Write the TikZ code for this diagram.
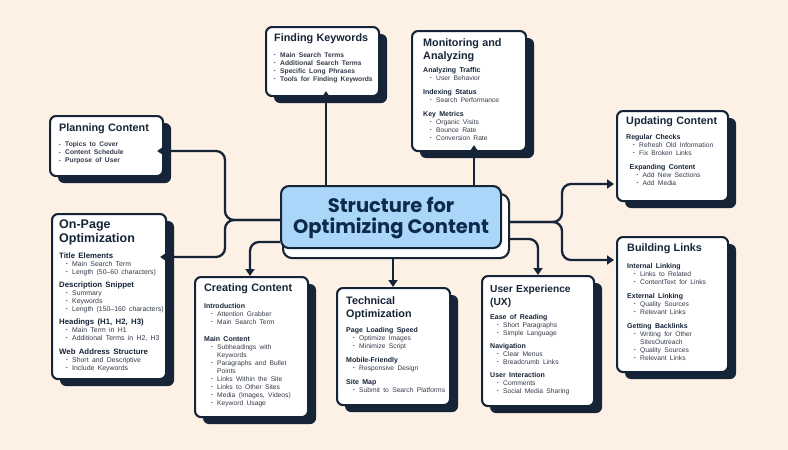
\documentclass[tikz,border=0pt]{standalone}
\usepackage{fontspec}
\setmainfont{Liberation Sans}
\newfontfamily\ctitlefont{Poppins}
\usetikzlibrary{shadows,arrows.meta}
\setlength{\parindent}{0pt}
\hyphenpenalty=10000
\definecolor{bg}{RGB}{253,240,228}
\definecolor{navy}{RGB}{22,36,56}
\definecolor{cblue}{RGB}{170,214,250}
\definecolor{ctext}{RGB}{14,42,74}
\definecolor{itemc}{RGB}{50,58,72}
\def\tsz{10.8}\def\tbs{13}\def\hsz{7}\def\isz{6.7}\def\itemfont{}\def\hin{0}
\newcommand{\BTitle}[1]{{\fontsize{\tsz}{\tbs}\selectfont\bfseries\leavevmode\color{navy}#1\par}}
\newcommand{\BHead}[1]{{\fontsize{\hsz}{8}\selectfont\bfseries\leavevmode\hspace*{\hin pt}\color{navy}#1\par}}
\newcommand{\BItem}[2][7]{{\fontsize{\isz}{8}\selectfont\itemfont\leavevmode\color{itemc}\hangindent=\dimexpr#1pt+6pt\relax\hspace*{#1pt}\makebox[6pt][l]{\raisebox{0.7pt}{\fontsize{4.5}{4.5}\selectfont\textbullet}}#2\par}}
\newcommand{\Gap}[1][5.5pt]{\vspace{#1}}
\tikzset{
  x=1pt, y=-1pt,
  box/.style={draw=navy, line width=2.1pt, fill=white, rounded corners=6pt,
    anchor=north west, inner sep=0pt,
    general shadow={fill=navy, shadow xshift=8pt, shadow yshift=-7pt}},
  txt/.style={anchor=north west, inner sep=0pt, align=left},
  conn/.style={draw=navy, line width=2.3pt, rounded corners=9pt,
    -{Triangle[length=7pt,width=9pt]}},
  cbox/.style={draw=navy, line width=2.1pt, fill=cblue, rounded corners=8pt,
    anchor=north west, inner sep=0pt},
  cshadow/.style={draw=navy, line width=2.1pt, fill=white, rounded corners=9pt,
    anchor=north west, inner sep=0pt}
}
\begin{document}
\begin{tikzpicture}
\fill[bg] (0,0) rectangle (788,450);
\useasboundingbox (0,0) rectangle (788,450);

% boxes
\node[box, minimum width=113pt, minimum height=69pt] (fk) at (265,26) {};
\node[box, minimum width=114pt, minimum height=120pt] (ma) at (411,30) {};
\node[box, minimum width=113pt, minimum height=60pt] (pc) at (49,115) {};
\node[box, minimum width=114pt, minimum height=165pt] (op) at (51,213) {};
\node[box, minimum width=113pt, minimum height=140pt] (cc) at (194,276) {};
\node[box, minimum width=113pt, minimum height=117pt] (to) at (336,287) {};
\node[box, minimum width=112pt, minimum height=130pt] (ux) at (481,275) {};
\node[box, minimum width=111pt, minimum height=90pt] (uc) at (616,110) {};
\node[box, minimum width=111pt, minimum height=135pt] (bl) at (616,236) {};

% centre
\node[cshadow, minimum width=226pt, minimum height=64pt] (cs) at (282,193) {};
\node[cbox, minimum width=220pt, minimum height=62pt] (ctr) at (280,185) {};
\node[align=center, inner sep=0pt, text=ctext,
  font=\ctitlefont\bfseries\fontsize{19.5}{21}\selectfont] (ct) at ([yshift=-1pt]ctr.center)
  {Structure for\\Optimizing Content};

% connectors
\draw[conn, shorten >=-6pt] (ctr.north -| 326,0) -- (fk.south -| 326,0);
\draw[conn, shorten >=-7pt] (ctr.north -| 474,0) -- (ma.south -| 474,0);
\draw[conn, shorten >=-7pt] (ctr.west |- 0,220) -| (225,151) -- (pc.east |- 0,151);
\draw[conn, shorten >=-7pt] (ctr.west |- 0,220) -| (225,257) -- (op.east |- 0,257);
\draw[conn] (ctr.west |- 0,242) -| (cc.north -| 250,0);
\draw[conn] (cs.south -| 393,0) -- (to.north -| 393,0);
\draw[conn] (cs.east |- 0,239) -| (ux.north -| 538,0);
\draw[conn, shorten >=2pt] (cs.east |- 0,222) -| (562,184) -- (uc.west |- 0,184);
\draw[conn, shorten >=2pt] (cs.east |- 0,222) -| (562,260) -- (bl.west |- 0,260);

% texts
\node[txt, text width=100pt] (fk-t) at ([shift={(9pt,-7.3pt)}]fk.north west) {%
  \def\itemfont{\bfseries}%
  \BTitle{Finding Keywords}\Gap[8pt]
  \BItem[0]{Main Search Terms}
  \BItem[0]{Additional Search Terms}
  \BItem[0]{Specific Long Phrases}
  \BItem[0]{Tools for Finding Keywords}};

\node[txt, text width=98pt] (ma-t) at ([shift={(12pt,-8.3pt)}]ma.north west) {%
  \BTitle{Monitoring and\newline Analyzing}\Gap[5pt]
  \BHead{Analyzing Traffic}
  \BItem{User Behavior}\Gap[6pt]
  \BHead{Indexing Status}
  \BItem{Search Performance}\Gap[6pt]
  \BHead{Key Metrics}
  \BItem{Organic Visits}
  \BItem{Bounce Rate}
  \BItem{Conversion Rate}};

\node[txt, text width=100pt] (pc-t) at ([shift={(10pt,-8.8pt)}]pc.north west) {%
  \def\itemfont{\bfseries}%
  \BTitle{Planning Content}\Gap[7pt]
  \BItem[0]{Topics to Cover}
  \BItem[0]{Content Schedule}
  \BItem[0]{Purpose of User}};

\node[txt, text width=110pt] (op-t) at ([shift={(8pt,-7pt)}]op.north west) {%
  \def\tsz{12.5}\def\tbs{14}\def\hsz{7.8}\def\isz{6.9}%
  \BTitle{On-Page\newline Optimization}\Gap[6pt]
  \BHead{Title Elements}
  \BItem{Main Search Term}
  \BItem{Length (50--60 characters)}\Gap[5pt]
  \BHead{Description Snippet}
  \BItem{Summary}
  \BItem{Keywords}
  \BItem{Length (150--160 characters)}\Gap[5pt]
  \BHead{Headings (H1, H2, H3)}
  \BItem{Main Term in H1}
  \BItem{Additional Terms in H2, H3}\Gap[6pt]
  \BHead{Web Address Structure}
  \BItem{Short and Descriptive}
  \BItem{Include Keywords}};

\node[txt, text width=100pt] (cc-t) at ([shift={(10pt,-7.3pt)}]cc.north west) {%
  \BTitle{Creating Content}\Gap[9pt]
  \BHead{Introduction}
  \BItem{Attention Grabber}
  \BItem{Main Search Term}\Gap[9pt]
  \BHead{Main Content}
  \BItem{Subheadings with\newline Keywords}
  \BItem{Paragraphs and Bullet\newline Points}
  \BItem{Links Within the Site}
  \BItem{Links to Other Sites}
  \BItem{Media (Images, Videos)}
  \BItem{Keyword Usage}};

\node[txt, text width=100pt] (to-t) at ([shift={(10pt,-9.5pt)}]to.north west) {%
  \BTitle{Technical\newline Optimization}\Gap[7pt]
  \BHead{Page Loading Speed}
  \BItem{Optimize Images}
  \BItem{Minimize Script}\Gap[6pt]
  \BHead{Mobile-Friendly}
  \BItem{Responsive Design}\Gap[6pt]
  \BHead{Site Map}
  \BItem{Submit to Search Platforms}};

\node[txt, text width=100pt] (ux-t) at ([shift={(9pt,-10pt)}]ux.north west) {%
  \def\tsz{10.2}%
  \BTitle{User Experience\newline (UX)}\Gap[6pt]
  \BHead{Ease of Reading}
  \BItem{Short Paragraphs}
  \BItem{Simple Language}\Gap[5pt]
  \BHead{Navigation}
  \BItem{Clear Menus}
  \BItem{Breadcrumb Links}\Gap[5pt]
  \BHead{User Interaction}
  \BItem{Comments}
  \BItem{Social Media Sharing}};

\node[txt, text width=98pt] (uc-t) at ([shift={(10pt,-6.3pt)}]uc.north west) {%
  \BTitle{Updating Content}\Gap[7pt]
  \BHead{Regular Checks}
  \BItem{Refresh Old Information}
  \BItem{Fix Broken Links}\Gap[6pt]
  \def\hin{3.5}%
  \BHead{Expanding Content}
  \BItem[10.5]{Add New Sections}
  \BItem[10.5]{Add Media}};

\node[txt, text width=96pt] (bl-t) at ([shift={(11pt,-7.3pt)}]bl.north west) {%
  \BTitle{Building Links}\Gap[9pt]
  \BHead{Internal Linking}
  \BItem{Links to Related}
  \BItem{ContentText for Links}\Gap[6pt]
  \BHead{External Linking}
  \BItem{Quality Sources}
  \BItem{Relevant Links}\Gap[6pt]
  \BHead{Getting Backlinks}
  \BItem{Writing for Other\newline SitesOutreach}
  \BItem{Quality Sources}
  \BItem{Relevant Links}};
\end{tikzpicture}
\end{document}
